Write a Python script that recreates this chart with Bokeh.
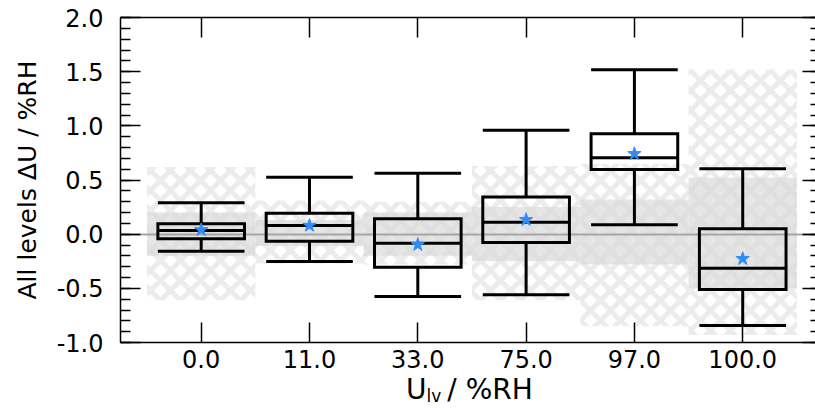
import numpy as np
from bokeh.plotting import figure
from bokeh.layouts import column
from bokeh.models import (ColumnDataSource, FixedTicker, LinearAxis, Range1d,
                          Div, PrintfTickFormatter)
from bokeh.embed import file_html
from bokeh.resources import INLINE

# Humidity levels (x categories)
categories = ["0.0", "11.0", "33.0", "75.0", "97.0", "100.0"]

# Box statistics of the deviation dU per level (%RH)
whisker_low = [-0.157, -0.252, -0.575, -0.56, 0.087, -0.843]
quart_1 = [-0.043, -0.065, -0.305, -0.077, 0.597, -0.51]
median = [0.034, 0.08, -0.083, 0.111, 0.705, -0.314]
quart_3 = [0.096, 0.194, 0.142, 0.342, 0.927, 0.05]
whisker_high = [0.29, 0.526, 0.563, 0.96, 1.518, 0.604]
mean = [0.04, 0.08, -0.098, 0.133, 0.742, -0.227]

# Uncertainty bands per level: hatched (expanded) and grey (reference)
hatch_low = [-0.61, -0.27, -0.28, -0.61, -0.85, -0.93]
hatch_high = [0.62, 0.31, 0.30, 0.63, 0.65, 1.52]
band_low = [-0.20, -0.11, -0.20, -0.25, -0.28, -0.50]
band_high = [0.20, 0.13, 0.20, 0.25, 0.32, 0.52]

zero_level = [0.0]

FONT = "DejaVu Sans"
BOX_W = 0.8
x = np.arange(len(categories), dtype=float)

src = ColumnDataSource(dict(
    x=x, x0=x - BOX_W / 2, x1=x + BOX_W / 2,
    wlo=whisker_low, q1=quart_1, med=median, q3=quart_3, whi=whisker_high,
    mean=mean, hlo=hatch_low, hhi=hatch_high, blo=band_low, bhi=band_high,
))

p = figure(width=815, height=378,
           x_range=Range1d(-0.745, 5.672), y_range=Range1d(-1.0, 2.0),
           output_backend="svg", toolbar_location=None,
           min_border_left=120, min_border_right=0,
           min_border_top=17, min_border_bottom=36)
p.grid.visible = False
p.outline_line_color = None
p.background_fill_color = "white"
p.border_fill_color = "white"

# hatched uncertainty regions
p.vbar(x="x", width=1.0, bottom="hlo", top="hhi", source=src,
       fill_alpha=0, line_color=None,
       hatch_pattern="diagonal_cross", hatch_color="#d0d0d0",
       hatch_alpha=0.4, hatch_scale=20, hatch_weight=5)
# grey reference bands
p.vbar(x="x", width=1.0, bottom="blo", top="bhi", source=src,
       fill_color="#dadada", fill_alpha=0.7, line_color=None)

# zero line
p.hspan(y=zero_level, line_color="#a5a5a5", line_width=2)

LW = 3
# whiskers
p.segment(x0="x", y0="q3", x1="x", y1="whi", source=src, line_color="black", line_width=LW)
p.segment(x0="x", y0="q1", x1="x", y1="wlo", source=src, line_color="black", line_width=LW)
# caps
p.segment(x0="x0", y0="whi", x1="x1", y1="whi", source=src, line_color="black", line_width=LW)
p.segment(x0="x0", y0="wlo", x1="x1", y1="wlo", source=src, line_color="black", line_width=LW)
# boxes
p.vbar(x="x", width=BOX_W, bottom="q1", top="q3", source=src,
       fill_alpha=0, line_color="black", line_width=LW, line_join="miter")
# medians
p.segment(x0="x0", y0="med", x1="x1", y1="med", source=src, line_color="black", line_width=LW)
# means
p.scatter(x="x", y="mean", source=src, marker="star", size=14,
          fill_color="#2f8df5", line_color="#2f8df5")

y_major = [-1.0, -0.5, 0.0, 0.5, 1.0, 1.5, 2.0]
y_minor = [round(v, 1) for v in np.arange(-1.0, 2.0001, 0.1)]
x_ticks = list(range(len(categories)))


def style_axis(ax):
    ax.axis_line_color = "black"
    ax.axis_line_width = 1.5
    ax.major_tick_line_color = "black"
    ax.major_tick_line_width = 1.5
    ax.minor_tick_line_color = "black"
    ax.minor_tick_line_width = 1.5
    ax.major_label_text_font = FONT
    ax.major_label_text_font_size = "24px"
    ax.major_label_text_color = "black"
    ax.axis_label_text_font = FONT
    ax.axis_label_text_font_style = "normal"
    ax.axis_label_text_color = "black"


def ticks_only(ax, ticks):
    # an axis that draws tick marks without labels
    ax.major_label_overrides = {t: "" for t in ticks}
    ax.major_label_text_font_size = "1px"
    ax.major_label_standoff = 0
    ax.major_tick_out = 0
    ax.minor_tick_out = 0


# left axis
ya = p.yaxis[0]
ya.ticker = FixedTicker(ticks=y_major, minor_ticks=y_minor)
ya.formatter = PrintfTickFormatter(format="%.1f")
style_axis(ya)
ya.major_tick_in = 20
ya.major_tick_out = 0
ya.minor_tick_in = 10
ya.minor_tick_out = 0
ya.major_label_standoff = 17
ya.axis_label = "All levels \u0394U / %RH"
ya.axis_label_text_font_size = "25px"
ya.axis_label_standoff = 12

# bottom axis
xa = p.xaxis[0]
xa.ticker = FixedTicker(ticks=x_ticks, minor_ticks=[])
xa.major_label_overrides = {i: c for i, c in enumerate(categories)}
style_axis(xa)
xa.major_tick_in = 20
xa.major_tick_out = 0
xa.minor_tick_in = 0
xa.minor_tick_out = 0
xa.major_label_standoff = 7

# top axis (ticks only)
ta = LinearAxis(ticker=FixedTicker(ticks=x_ticks, minor_ticks=[]))
style_axis(ta)
ticks_only(ta, x_ticks)
ta.major_tick_in = 20
ta.minor_tick_in = 0
p.add_layout(ta, "above")

# right axis (ticks only, spine falls at the canvas edge)
ra = LinearAxis(ticker=FixedTicker(ticks=y_major, minor_ticks=y_minor))
style_axis(ra)
ticks_only(ra, y_major)
ra.axis_line_color = None
ra.major_tick_in = 13
ra.minor_tick_in = 5
p.add_layout(ra, "right")

# x axis title with subscript
xtitle = Div(
    text=('<span style="position:relative; top:-8px;">U'
          '<span style="font-size:17px; position:relative; top:3px;">lv</span>'
          '<span style="margin-left:6px;">/ %RH</span></span>'),
    width=815, height=30,
    styles={"font-family": FONT, "font-size": "28px", "line-height": "30px",
            "color": "black", "padding-left": "401px", "white-space": "nowrap",
            "box-sizing": "border-box", "overflow": "visible"},
)

layout = column(p, xtitle, spacing=0)
open("out.html", "w").write(file_html(layout, INLINE))
